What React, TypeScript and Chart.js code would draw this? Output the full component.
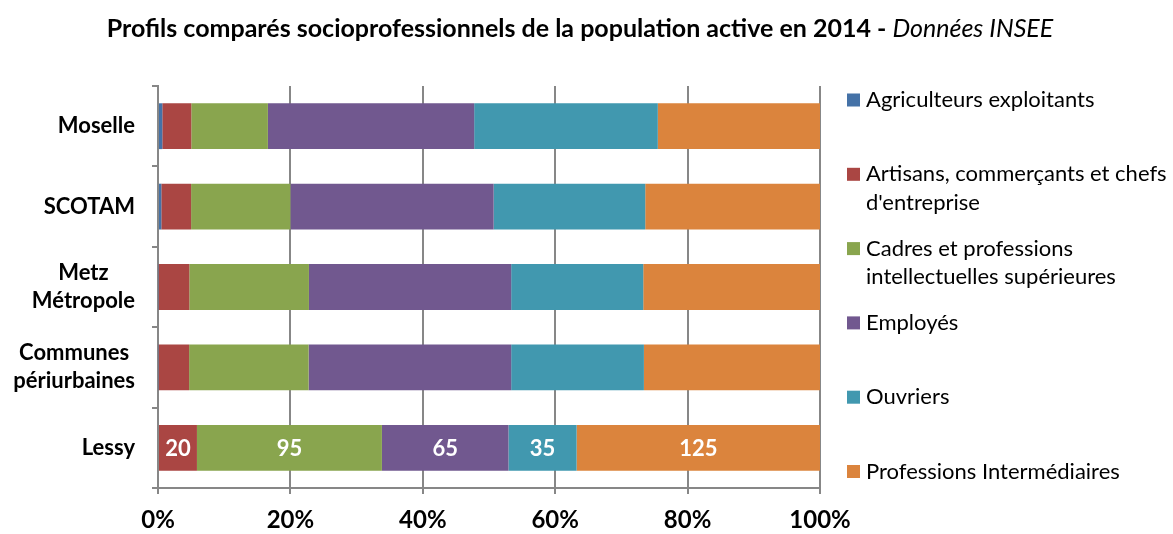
import React, { useEffect, useRef } from "react";
import { Chart, registerables } from "chart.js";

Chart.register(...registerables);

// Categories (multi-line labels as arrays)
const categories: (string | string[])[] = [
  "Moselle",
  "SCOTAM",
  ["Metz", "Métropole"],
  ["Communes", "périurbaines"],
  "Lessy",
];

// Legend labels, split on lines as in the reference
const seriesLabels: string[][] = [
  ["Agriculteurs exploitants"],
  ["Artisans, commerçants et chefs", "d'entreprise"],
  ["Cadres et professions", "intellectuelles supérieures"],
  ["Employés"],
  ["Ouvriers"],
  ["Professions Intermédiaires"],
];

const seriesColors = ["#4572A7", "#AA4643", "#89A54E", "#71588F", "#4198AF", "#DB843D"];

// Values per category: shares (%) for the four territories, counts for Lessy
const agriculteurs = [0.65, 0.5, 0.1, 0.1, 0];
const artisans = [4.38, 4.5, 4.63, 4.6, 20];
const cadres = [11.57, 15.0, 18.07, 18.05, 95];
const employes = [31.16, 30.7, 30.55, 30.6, 65];
const ouvriers = [27.74, 22.9, 19.95, 20.05, 35];
const profInter = [24.5, 26.4, 26.7, 26.6, 125];

// Categories whose raw values are printed inside the bars
const showValues = [false, false, false, false, true];

const xTicks = [0, 20, 40, 60, 80, 100];

const series = [agriculteurs, artisans, cadres, employes, ouvriers, profInter];

const FONT = "Lato";

export default function App() {
  const ref = useRef<HTMLCanvasElement | null>(null);

  useEffect(() => {
    const canvas = ref.current;
    if (!canvas) return;

    const totals = categories.map((_, ci) => series.reduce((s, arr) => s + arr[ci], 0));

    const datasets = series.map((arr, si) => ({
      label: seriesLabels[si].join(" "),
      data: arr.map((v, ci) => (v / totals[ci]) * 100),
      raw: arr,
      backgroundColor: seriesColors[si],
      borderWidth: 0,
      categoryPercentage: 1,
      barPercentage: 0.57,
    }));

    const overlay = {
      id: "overlay",
      afterDatasetsDraw(chart: any) {
        const ctx = chart.ctx;
        ctx.save();
        // value labels
        ctx.fillStyle = "#ffffff";
        ctx.font = `bold 22px ${FONT}`;
        ctx.textAlign = "center";
        ctx.textBaseline = "middle";
        chart.data.datasets.forEach((ds: any, si: number) => {
          const meta = chart.getDatasetMeta(si);
          meta.data.forEach((el: any, ci: number) => {
            if (!showValues[ci]) return;
            const v = ds.raw[ci];
            if (!v) return;
            const cx = (el.x + el.base) / 2;
            ctx.fillText(String(v), cx, el.y + 1);
          });
        });
        ctx.restore();
      },
      afterDraw(chart: any) {
        const ctx = chart.ctx;
        ctx.save();
        // Title
        const boldPart = "Profils comparés socioprofessionnels de la population active en 2014 - ";
        const italicPart = "Données INSEE";
        ctx.textBaseline = "alphabetic";
        ctx.fillStyle = "#000";
        ctx.font = `bold 25px ${FONT}`;
        const w1 = ctx.measureText(boldPart).width;
        ctx.font = `italic 25px ${FONT}`;
        const w2 = ctx.measureText(italicPart).width;
        const x0 = 580 - (w1 + w2) / 2;
        ctx.font = `bold 25px ${FONT}`;
        ctx.textAlign = "left";
        ctx.fillText(boldPart, x0, 37);
        ctx.font = `italic 25px ${FONT}`;
        ctx.fillText(italicPart, x0 + w1, 37);

        // Category labels: block right-aligned, lines centred within the block
        const yScale = chart.scales.y;
        ctx.font = `bold 22px ${FONT}`;
        ctx.textBaseline = "middle";
        ctx.textAlign = "center";
        const right = yScale.right - 6 - 17;
        categories.forEach((lab, i) => {
          const lines = Array.isArray(lab) ? lab : [lab];
          const cy = yScale.getPixelForValue(i);
          const bw = Math.max(...lines.map((l) => ctx.measureText(l).width));
          const cx = right - bw / 2;
          lines.forEach((ln, j) => {
            ctx.fillText(ln, cx, cy + (j - (lines.length - 1) / 2) * 28);
          });
        });

        // Legend
        ctx.textBaseline = "alphabetic";
        ctx.textAlign = "left";
        ctx.font = `22px ${FONT}`;
        const firstBaseline = 107;
        const step = 74.3;
        seriesLabels.forEach((lines, i) => {
          const by = firstBaseline + i * step;
          ctx.fillStyle = seriesColors[i];
          ctx.fillRect(847, by - 13.5, 13, 13);
          ctx.fillStyle = "#000";
          lines.forEach((ln, li) => {
            ctx.fillText(ln, 866, by + li * 28.5);
          });
        });
        ctx.restore();
      },
    };

    const gridColor = "#878787";

    const chart = new Chart(canvas, {
      type: "bar",
      data: { labels: categories as any, datasets: datasets as any },
      options: {
        indexAxis: "y",
        responsive: false,
        animation: false,
        layout: { padding: { top: 86, right: 353, bottom: 0, left: 0 } },
        plugins: {
          legend: { display: false },
          title: { display: false },
          tooltip: { enabled: false },
        },
        scales: {
          x: {
            type: "linear",
            stacked: true,
            min: 0,
            max: 100,
            afterBuildTicks: (s: any) => {
              s.ticks = xTicks.map((v) => ({ value: v }));
            },
            grid: {
              color: gridColor,
              lineWidth: 2,
              tickLength: 6,
              drawOnChartArea: true,
              drawTicks: true,
            },
            border: { color: gridColor, width: 2 },
            ticks: {
              callback: (v: any) => `${v}%`,
              color: "#000",
              padding: 12,
              maxRotation: 0,
              font: { family: FONT, weight: "bold", size: 24 },
            },
            afterFit: (s: any) => {
              s.height = 46;
            },
          },
          y: {
            type: "category",
            stacked: true,
            grid: {
              color: gridColor,
              lineWidth: 2,
              tickLength: 6,
              drawOnChartArea: false,
              drawTicks: true,
              offset: true,
            },
            border: { color: gridColor, width: 2 },
            ticks: {
              display: false,
            },
            afterFit: (s: any) => {
              s.width = 158;
            },
          },
        },
      } as any,
      plugins: [overlay],
    });

    return () => chart.destroy();
  }, []);

  return (
    <div style={{ position: "absolute", left: 0, top: 0, width: 1173, height: 534, background: "#fff" }}>
      <canvas ref={ref} width={1173} height={534} style={{ display: "block" }} />
    </div>
  );
}
